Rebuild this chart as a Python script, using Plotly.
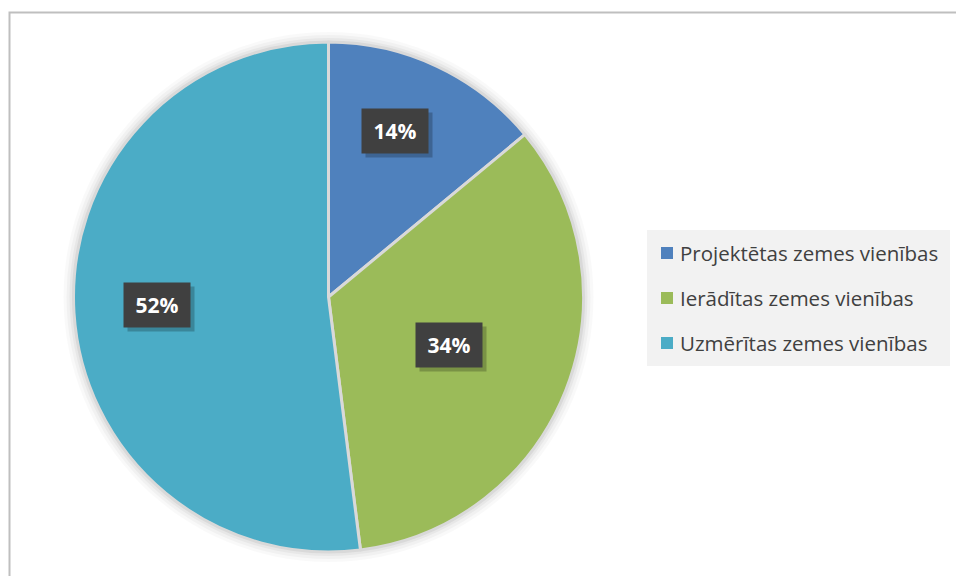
import math
import plotly.graph_objects as go

# ---- data ----
categories = ["Projektētas zemes vienības", "Ierādītas zemes vienības", "Uzmērītas zemes vienības"]
values = [14, 34, 52]
colors = ["#4F81BD", "#9BBB59", "#4BACC6"]

# ---- layout constants ----
W, H = 956, 576
CX, CY, R = 328.5, 297.0, 255.0
label_r = [0.70, 0.51, 0.675]
label_dtheta = [-3.4, 0.0, 0.8]

def px(x):
    return x / W

def py(y):
    return 1 - y / H

fig = go.Figure()
fig.add_trace(go.Pie(
    labels=categories,
    values=values,
    sort=False,
    direction="clockwise",
    rotation=0,
    textinfo="none",
    hoverinfo="label+percent",
    marker=dict(colors=colors, line=dict(color="#D9D9D9", width=3)),
    domain=dict(x=[px(CX - R), px(CX + R)], y=[py(CY + R), py(CY - R)]),
    showlegend=False,
))

shapes = []
# outer chart border
shapes.append(dict(type="rect", xref="paper", yref="paper",
                   x0=px(9.5), x1=px(W + 20), y0=py(H + 20), y1=py(12.5),
                   line=dict(color="#BFBFBF", width=2), fillcolor="rgba(0,0,0,0)", layer="below"))
# soft shadow around the pie
for d, a in [(10, 0.025), (7, 0.03), (4, 0.04)]:
    shapes.append(dict(type="circle", xref="paper", yref="paper",
                       x0=px(CX - R - d), x1=px(CX + R + d),
                       y0=py(CY + R + d), y1=py(CY - R - d),
                       line=dict(width=0), fillcolor=f"rgba(0,0,0,{a})", layer="below"))

# legend box
shapes.append(dict(type="rect", xref="paper", yref="paper",
                   x0=px(647), x1=px(950), y0=py(366), y1=py(230),
                   line=dict(width=0), fillcolor="#F2F2F2", layer="below"))

annotations = []
legend_rows = [253, 298, 343]
for cat, col, yy in zip(categories, colors, legend_rows):
    shapes.append(dict(type="rect", xref="paper", yref="paper",
                       x0=px(661), x1=px(673), y0=py(yy + 6), y1=py(yy - 6),
                       line=dict(width=0), fillcolor=col))
    annotations.append(dict(xref="paper", yref="paper", x=px(678), y=py(yy),
                            xanchor="left", yanchor="middle", showarrow=False,
                            text=cat, font=dict(family="Open Sans", size=20.5, color="#404040")))

# data labels
total = sum(values)
cum = 0
for i, v in enumerate(values):
    mid = (cum + v / 2) / total * 360 + label_dtheta[i]
    cum += v
    rr = label_r[i] * R
    lx = CX + rr * math.sin(math.radians(mid))
    ly = CY - rr * math.cos(math.radians(mid))
    pct = f"{round(v / total * 100)}%"
    # shadow
    annotations.append(dict(xref="paper", yref="paper", x=px(lx + 4), y=py(ly + 4),
                            xanchor="center", yanchor="middle", showarrow=False,
                            text=" ", width=64, height=42, bgcolor="rgba(0,0,0,0.22)",
                            font=dict(size=20)))
    annotations.append(dict(xref="paper", yref="paper", x=px(lx), y=py(ly),
                            xanchor="center", yanchor="middle", showarrow=False,
                            text=f"<b>{pct}</b>", width=64, height=42, bgcolor="#404040",
                            font=dict(family="Open Sans", size=21, color="white")))

fig.update_layout(
    width=W, height=H,
    margin=dict(l=0, r=0, t=0, b=0),
    paper_bgcolor="white",
    plot_bgcolor="white",
    shapes=shapes,
    annotations=annotations,
    showlegend=False,
)

fig.write_html(
    "out.html",
    config={"displayModeBar": False},
    post_script="document.body.style.margin='0';document.body.style.padding='0';document.body.style.overflow='hidden';",
)
